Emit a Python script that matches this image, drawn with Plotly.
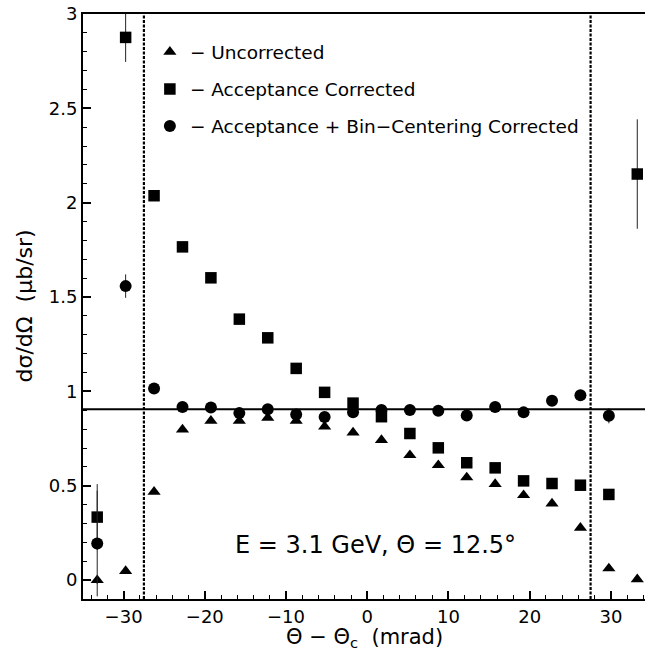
import plotly.graph_objects as go

# Bin centres in Θ − Θc (mrad)
theta_mrad = [-33.25, -29.75, -26.25, -22.75, -19.25, -15.75, -12.25, -8.75, -5.25, -1.75,
              1.75, 5.25, 8.75, 12.25, 15.75, 19.25, 22.75, 26.25, 29.75, 33.25]

# dσ/dΩ (μb/sr) for the three correction stages
uncorrected = [0.000, 0.048, 0.468, 0.798, 0.844, 0.844, 0.860, 0.844, 0.814, 0.782,
               0.742, 0.662, 0.609, 0.544, 0.509, 0.450, 0.406, 0.277, 0.062, 0.004]
uncorrected_err = [0.02, 0.01, 0.01, 0, 0, 0, 0, 0, 0, 0,
                   0, 0, 0, 0, 0, 0, 0, 0, 0.01, 0.01]

acc_corrected = [0.334, 2.876, 2.037, 1.766, 1.602, 1.383, 1.284, 1.122, 0.995, 0.938,
                 0.866, 0.777, 0.701, 0.622, 0.595, 0.526, 0.512, 0.503, 0.454, 2.152]
acc_corrected_err = [0.175, 0.130, 0.02, 0.01, 0.01, 0, 0, 0, 0, 0,
                     0, 0, 0, 0, 0, 0, 0, 0.01, 0.02, 0.290]

acc_bc_corrected = [0.194, 1.558, 1.016, 0.917, 0.915, 0.885, 0.906, 0.878, 0.865, 0.890,
                    0.901, 0.901, 0.897, 0.873, 0.918, 0.889, 0.950, 0.980, 0.871, None]
acc_bc_err = [0.280, 0.062, 0.01, 0, 0, 0, 0, 0, 0, 0,
              0, 0, 0, 0, 0, 0, 0, 0.01, 0.040, 0]

# Reference level and acceptance cuts
fit_level = 0.906
cut_lo, cut_hi = -27.5, 27.5

series_names = ["\u2212 Uncorrected",
                "\u2212 Acceptance Corrected",
                "\u2212 Acceptance + Bin\u2212Centering Corrected"]

FONT = "DejaVu Sans"

fig = go.Figure()

def add_series(y, err, name, symbol, size, group):
    fig.add_trace(go.Scatter(
        x=theta_mrad, y=y, mode="markers", name=name, legendgroup=group,
        marker=dict(symbol=symbol, size=size, color="black", line=dict(width=0)),
        error_y=dict(type="data", array=err, visible=True, color="#222222",
                     thickness=1, width=0),
    ))

add_series(uncorrected, uncorrected_err, series_names[0], "triangle-up", 11.5, "g1")
add_series(acc_corrected, acc_corrected_err, series_names[1], "square", 11.5, "g2")
add_series(acc_bc_corrected, acc_bc_err, series_names[2], "circle", 12, "g3")

# horizontal reference level
fig.add_shape(type="line", xref="paper", yref="y", x0=0, x1=1, y0=fit_level, y1=fit_level,
              line=dict(color="black", width=2))
# dotted acceptance boundaries
for xc in (cut_lo, cut_hi):
    fig.add_shape(type="line", xref="x", yref="paper", x0=xc, x1=xc, y0=0, y1=1,
                  line=dict(color="black", width=2.2, dash="3px,1.5px"))

fig.add_annotation(x=1.0, y=0.185, xref="x", yref="y",
                   text="E = 3.1 GeV, \u0398 = 12.5\u00b0", showarrow=False,
                   font=dict(family=FONT, size=24, color="black"))

# axis titles
fig.add_annotation(x=0.5, y=0, xref="paper", yref="paper", yanchor="middle",
                   yshift=-39, showarrow=False,
                   text="\u0398 \u2212 \u0398<sub>c</sub>  (mrad)",
                   font=dict(family=FONT, size=21, color="black"))
fig.add_annotation(x=0, y=0.5, xref="paper", yref="paper", xanchor="center",
                   xshift=-59, showarrow=False, textangle=-90,
                   text="d\u03c3/d\u03a9  (\u03bcb/sr)",
                   font=dict(family=FONT, size=22, color="black"))

fig.update_xaxes(
    range=[-35, 34.2], tick0=0, dtick=10, ticks="inside", ticklen=8, tickwidth=1.5,
    tickcolor="black", showline=True, linewidth=2, linecolor="black", mirror=True,
    showgrid=False, zeroline=False,
    minor=dict(dtick=2, ticks="inside", ticklen=4, tickwidth=1.2, tickcolor="black", showgrid=False),
    tickfont=dict(family=FONT, size=18, color="black"),
)
fig.update_yaxes(
    range=[-0.1, 3.0], tick0=0, dtick=0.5, ticks="inside", ticklen=8, tickwidth=1.5,
    tickcolor="black", showline=True, linewidth=2, linecolor="black", mirror=False,
    showgrid=False, zeroline=False,
    minor=dict(dtick=0.1, ticks="inside", ticklen=4, tickwidth=1.2, tickcolor="black", showgrid=False),
    tickfont=dict(family=FONT, size=18, color="black"),
)

fig.update_layout(
    width=645, height=658,
    margin=dict(l=83, r=0, t=14, b=59),
    paper_bgcolor="white", plot_bgcolor="white",
    showlegend=True,
    legend=dict(x=0.119, y=0.967, xanchor="left", yanchor="top",
                bgcolor="rgba(0,0,0,0)", borderwidth=0,
                font=dict(family=FONT, size=18.5, color="black"),
                tracegroupgap=10, itemwidth=30),
)

fig.write_html("out.html")
